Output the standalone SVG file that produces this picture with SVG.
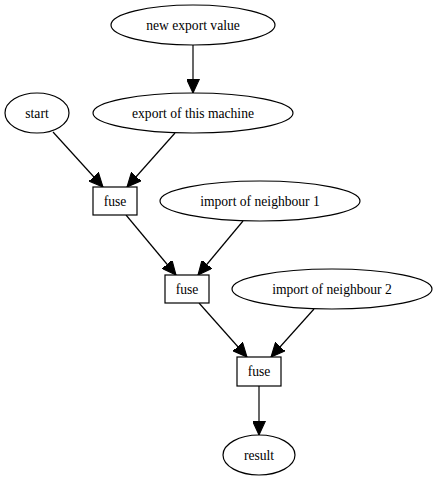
<svg xmlns="http://www.w3.org/2000/svg" width="437" height="480" viewBox="0 0 437 480">
<defs>
<style>
.n{fill:#fff;stroke:#000;stroke-width:1.2}
.t{font-family:"Liberation Serif",serif;font-size:13.6px;text-anchor:middle;fill:#000}
.e{fill:none;stroke:#000;stroke-width:1.2}
</style>
<marker id="a" markerUnits="userSpaceOnUse" markerWidth="15" markerHeight="13" refX="13" refY="6" orient="auto" viewBox="0 0 14 12">
<path d="M0,0 L13,6 L0,12 Z" fill="#000" stroke="#000"/>
</marker>
</defs>
<rect width="437" height="480" fill="#fff"/>
<g id="edges">
<path class="e" d="M193,45 L193,93" marker-end="url(#a)"/>
<path class="e" d="M53,132 L103,187" marker-end="url(#a)"/>
<path class="e" d="M175,133 L127,187" marker-end="url(#a)"/>
<path class="e" d="M126,215 L176,275" marker-end="url(#a)"/>
<path class="e" d="M243,221 L198,275" marker-end="url(#a)"/>
<path class="e" d="M199,303 L247,357" marker-end="url(#a)"/>
<path class="e" d="M314,309 L271,357" marker-end="url(#a)"/>
<path class="e" d="M259,386 L259,435" marker-end="url(#a)"/>
</g>
<g id="new_export_value"><ellipse class="n" cx="193" cy="25" rx="82" ry="20"/><text class="t" x="193" y="29.5">new export value</text></g>
<g id="start"><ellipse class="n" cx="37" cy="113" rx="32" ry="20"/><text class="t" x="37" y="117.5">start</text></g>
<g id="export_of_this_machine"><ellipse class="n" cx="193" cy="113" rx="100" ry="20"/><text class="t" x="193" y="117.5">export of this machine</text></g>
<g id="fuse1"><rect class="n" x="93" y="187" width="44" height="28"/><text class="t" x="115" y="205.5">fuse</text></g>
<g id="import_of_neighbour_1"><ellipse class="n" cx="260" cy="201" rx="100" ry="20"/><text class="t" x="260" y="205.5">import of neighbour 1</text></g>
<g id="fuse2"><rect class="n" x="165" y="275" width="44" height="28"/><text class="t" x="187" y="293.5">fuse</text></g>
<g id="import_of_neighbour_2"><ellipse class="n" cx="332" cy="289" rx="100" ry="20"/><text class="t" x="332" y="293.5">import of neighbour 2</text></g>
<g id="fuse3"><rect class="n" x="237" y="357" width="44" height="29"/><text class="t" x="259" y="375.5">fuse</text></g>
<g id="result"><ellipse class="n" cx="259" cy="455" rx="36" ry="20"/><text class="t" x="259" y="459.5">result</text></g>
</svg>
